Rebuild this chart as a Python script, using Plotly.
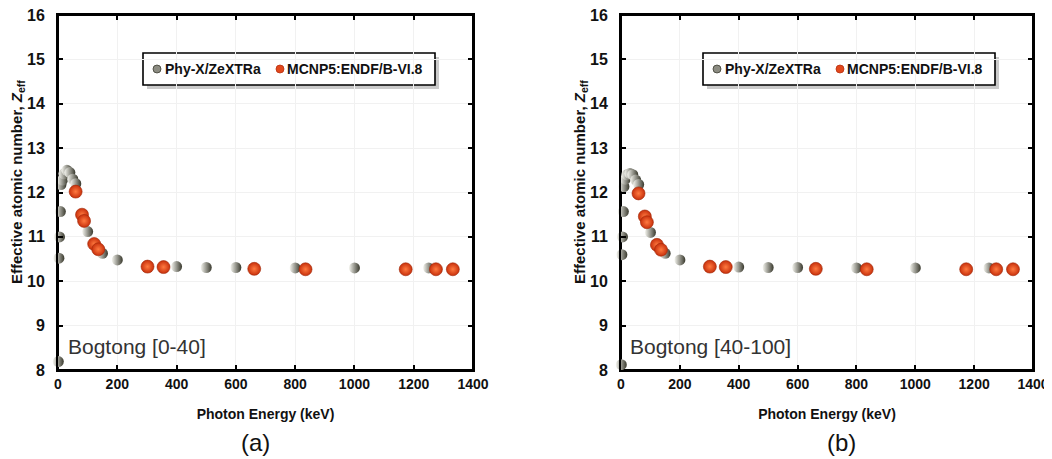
import plotly.graph_objects as go

# ---------------- data ----------------
phyx_energy = [1, 3, 5, 8, 10, 15, 20, 30, 40, 50, 60, 80, 100, 150, 200, 300, 400, 500, 600, 800, 1000, 1250]
phyx_zeff_a = [8.19, 10.52, 11.0, 11.57, 12.18, 12.28, 12.42, 12.5, 12.45, 12.3, 12.2, 11.5, 11.12, 10.63, 10.48, 10.34, 10.33, 10.31, 10.31, 10.3, 10.3, 10.3]
phyx_zeff_b = [8.12, 10.6, 11.0, 11.57, 12.13, 12.3, 12.4, 12.43, 12.4, 12.28, 12.18, 11.48, 11.1, 10.63, 10.48, 10.34, 10.32, 10.31, 10.31, 10.3, 10.3, 10.3]

mcnp_energy = [59.5, 81, 88, 122, 136, 302, 356, 662, 835, 1173, 1275, 1332]
mcnp_zeff_a = [12.02, 11.5, 11.36, 10.84, 10.72, 10.33, 10.32, 10.28, 10.27, 10.27, 10.27, 10.27]
mcnp_zeff_b = [11.98, 11.46, 11.33, 10.82, 10.71, 10.33, 10.32, 10.28, 10.27, 10.27, 10.27, 10.27]

series_names = ["Phy-X/ZeXTRa", "MCNP5:ENDF/B-VI.8"]
panel_labels = ["Bogtong [0-40]", "Bogtong [40-100]"]
panel_tags = ["(a)", "(b)"]
y_title = "Effective atomic number, <i>Z</i><sub>eff</sub>"
x_title = "Photon Energy (keV)"

x_ticks = [0, 200, 400, 600, 800, 1000, 1200, 1400]
y_ticks = [8, 9, 10, 11, 12, 13, 14, 15, 16]

# ---------------- layout geometry (page pixels; page body has 8px margin) ----------------
OFF = 8
W, H = 1052 - OFF, 459 - OFF
def px(x):
    return (x - OFF) / W
def py(y):
    return 1 - (y - OFF) / H

panel_px = [(58, 473), (621, 1033)]
top_px, bot_px = 15, 370
dom_x = [[px(a), px(b)] for a, b in panel_px]
dom_y = [py(bot_px), py(top_px)]

GRAY_EDGE, GRAY_LIGHT = "#38382c", "#f6f6f0"
RED_EDGE, RED_LIGHT = "#c8300c", "#ff7a40"

gray_marker = dict(size=11, color=GRAY_LIGHT, line=dict(width=0),
                   gradient=dict(type="horizontal", color=GRAY_EDGE))
red_marker = dict(size=13, color=RED_EDGE, line=dict(width=0.6, color="#a02808"),
                  gradient=dict(type="radial", color=RED_LIGHT))

fig = go.Figure()
data_sets = [(phyx_zeff_a, mcnp_zeff_a), (phyx_zeff_b, mcnp_zeff_b)]
for i, (pz, mz) in enumerate(data_sets):
    xa = "x" if i == 0 else "x2"
    ya = "y" if i == 0 else "y2"
    fig.add_trace(go.Scatter(x=phyx_energy, y=pz, mode="markers", marker=gray_marker,
                             name=series_names[0], xaxis=xa, yaxis=ya,
                             showlegend=False, cliponaxis=False))
    fig.add_trace(go.Scatter(x=mcnp_energy, y=mz, mode="markers", marker=red_marker,
                             name=series_names[1], xaxis=xa, yaxis=ya,
                             showlegend=False, cliponaxis=False))

axis_common = dict(showline=True, linewidth=2, linecolor="black", mirror="ticks",
                   ticks="inside", ticklen=5, tickwidth=2, tickcolor="black",
                   showgrid=True, gridcolor="#f1f1f1", zeroline=False, automargin=False,
                   ticklabeloverflow="allow")

tick_font_x = dict(family="Liberation Sans, Arial", size=14, color="#111", weight="bold")
tick_font_y = dict(family="Liberation Sans, Arial", size=16, color="#111", weight="bold")
title_font = dict(family="Liberation Sans, Arial", size=14, color="#111", weight="bold")

layout = dict(width=W, height=H, margin=dict(l=0, r=0, t=0, b=0),
              paper_bgcolor="white", plot_bgcolor="rgba(0,0,0,0)", showlegend=False)

for i in range(2):
    sx = "" if i == 0 else "2"
    layout["xaxis" + sx] = dict(axis_common, domain=dom_x[i], range=[0, 1400],
                                tickvals=x_ticks, ticktext=[str(v) for v in x_ticks],
                                tickfont=tick_font_x, anchor="y" + sx,
                                title=dict(text=x_title, font=title_font, standoff=18))
    layout["yaxis" + sx] = dict(axis_common, domain=dom_y, range=[8, 16],
                                tickvals=y_ticks, tickfont=tick_font_y, anchor="x" + sx,
                                ticklabelstandoff=8)

fig.update_layout(**layout)

# plot frames (drawn in the lower shape layer, on paper coordinates)
for a, b in panel_px:
    fig.add_shape(type="rect", xref="paper", yref="paper",
                  x0=px(a), x1=px(b), y0=py(bot_px), y1=py(top_px),
                  line=dict(width=2, color="black"), fillcolor="rgba(0,0,0,0)", layer="below")

# ---- hand-made legend (box, shadow, keys, labels) ----
legend_left = [143, 703]
box_w, box_top, box_bot = 292, 53, 85
key_y = 69
for L in legend_left:
    fig.add_shape(type="rect", xref="paper", yref="paper",
                  x0=px(L + 4), x1=px(L + box_w + 4), y0=py(box_bot + 4), y1=py(box_top + 4),
                  fillcolor="#a8a8a8", opacity=0.6, line=dict(width=0), layer="below")
    fig.add_shape(type="rect", xref="paper", yref="paper",
                  x0=px(L), x1=px(L + box_w), y0=py(box_bot), y1=py(box_top),
                  fillcolor="white", line=dict(width=1.6, color="black"), layer="below")
    for kx, fill, edge in ((L + 14, "#8c8c82", "#3c3c32"), (L + 137, "#e2481c", "#b83010")):
        fig.add_shape(type="circle", xref="paper", yref="paper",
                      xsizemode="pixel", ysizemode="pixel",
                      xanchor=px(kx), yanchor=py(key_y), x0=-4, x1=4, y0=-4, y1=4,
                      fillcolor=fill, line=dict(width=0.8, color=edge), layer="below")
    for xoff, name in ((21, series_names[0]), (143, series_names[1])):
        fig.add_annotation(x=px(L + xoff), y=py(key_y), xref="paper", yref="paper",
                           text="<b>%s</b>" % name, showarrow=False,
                           xanchor="left", yanchor="middle", borderpad=0,
                           font=dict(family="Liberation Sans, Arial", size=14, color="#111"))

# y-axis titles (rotated)
for xc in (18, 581):
    fig.add_annotation(x=px(xc), y=py(182), xref="paper", yref="paper", text="<b>%s</b>" % y_title,
                       showarrow=False, textangle=-90, xanchor="center", yanchor="middle",
                       font=dict(family="Liberation Sans, Arial", size=15, color="#111"))

# panel labels
for xc, txt in ((66, panel_labels[0]), (628, panel_labels[1])):
    fig.add_annotation(x=px(xc), y=py(346), xref="paper", yref="paper", text=txt,
                       showarrow=False, xanchor="left", yanchor="middle",
                       font=dict(family="Liberation Sans, Arial", size=21, color="#333"))
for xc, txt in ((255, panel_tags[0]), (841, panel_tags[1])):
    fig.add_annotation(x=px(xc), y=py(442), xref="paper", yref="paper", text=txt,
                       showarrow=False, xanchor="center", yanchor="middle",
                       font=dict(family="Liberation Sans, Arial", size=24, color="#111"))

fig.write_html("out.html")
